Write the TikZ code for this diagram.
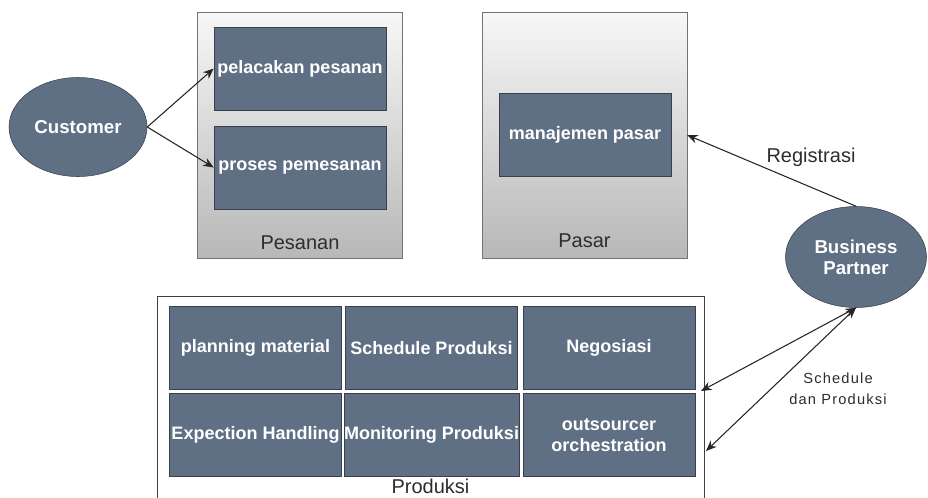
\documentclass[tikz,border=0pt]{standalone}
\usepackage{fontspec}
\setmainfont{Liberation Sans}
\usetikzlibrary{arrows.meta,shapes.geometric}

\definecolor{slate}{RGB}{95,112,133}
\definecolor{slateline}{RGB}{55,64,76}
\definecolor{labelgray}{RGB}{45,45,45}

\tikzset{
	cell/.style={draw=slateline, fill=slate, text=white, font=\fontsize{13.5}{16}\selectfont\bfseries, align=center, minimum width=129pt, minimum height=62.25pt, inner sep=0pt},
	actor/.style={ellipse, draw=slateline, fill=slate, text=white, font=\fontsize{14}{16}\selectfont\bfseries, align=center, inner sep=0pt},
	group/.style={draw=black!55, top color=black!3, bottom color=black!28, minimum width=153.5pt, minimum height=184.5pt, inner sep=0pt},
	caption/.style={text=labelgray, font=\fontsize{15}{17}\selectfont},
	link/.style={-{Stealth[length=8pt,width=6.5pt]}, thick, black!85}
}

\begin{document}
\begin{tikzpicture}[x=0.75pt, y=-0.75pt]
	\useasboundingbox (0,0) rectangle (928,497);
	\clip (0,0) rectangle (928,497);
	
	% groups
	\node[group] (pesanan) at (300,135) {};
	\node[group] (pasar) at (584.5,135) {};
	\node[draw=black!75, fill=white, minimum width=410.25pt, minimum height=157.5pt, inner sep=0pt] (produksi) at (430.5,401) {};
	
	\node[caption] (lpesanan) at (300,243) {Pesanan};
	\node[caption] (lpasar) at (584.5,241) {Pasar};
	\node[caption, inner sep=0pt] (lproduksi) at (430.5,486) {Produksi};
	
	% functions
	\node[cell] (pelacak) at (300,68.5) {pelacakan pesanan};
	\node[cell] (proses) at (300,167.5) {proses pemesanan};
	\node[cell] (manajemen) at (585,134.5) {manajemen pasar};
	
	\foreach \n/\x/\y/\t in {plan/255.5/348/{planning material}, sched/431.5/348/{Schedule Produksi}, nego/609/348/{Negosiasi},
		exc/255.5/435/{Expection Handling}, mon/431.5/435/{Monitoring Produksi}, outs/609/435/{outsourcer\\orchestration}}
		\node[cell] (\n) at (\x,\y) {\t};
	
	% actors
	\node[actor, minimum width=103.5pt, minimum height=74.25pt] (cust) at (78,127) {Customer};
	\node[actor, minimum width=105.75pt, minimum height=75.75pt] (bp) at (856,257) {Business\\Partner};
	
	\coordinate (sd1) at (701,391);
	\coordinate (sd2) at (706,451);
	
	\draw[link] (cust.east) -- (pelacak.west);
	\draw[link] (cust.east) -- (proses.west);
	\draw[link] (bp.north) -- (pasar.east);
	\draw[link, {Stealth[length=8pt,width=6.5pt]}-{Stealth[length=8pt,width=6.5pt]}] (sd1) -- (bp.south);
	\draw[link, {Stealth[length=8pt,width=6.5pt]}-{Stealth[length=8pt,width=6.5pt]}] (sd2) -- (bp.south);
	
	\node[caption] (lreg) at (811,157) {Registrasi};
	\node[caption, font=\fontsize{11}{16}\selectfont\addfontfeature{LetterSpace=8}, align=center] (lsched) at (838,389) {Schedule\\dan Produksi};
\end{tikzpicture}
\end{document}
